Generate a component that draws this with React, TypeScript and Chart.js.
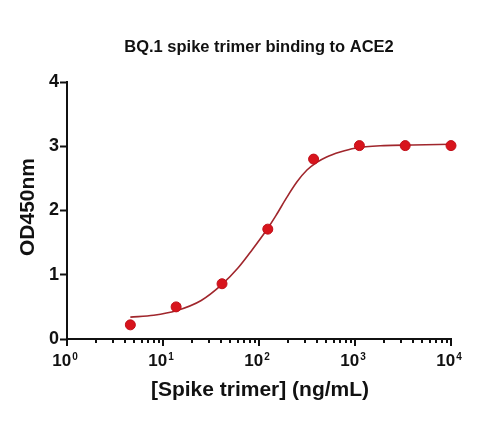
import React, { useEffect, useRef } from "react";
import { Chart, registerables } from "chart.js";

Chart.register(...registerables);

const chartTitle = "BQ.1 spike trimer binding to ACE2";
const xAxisTitle = "[Spike trimer] (ng/mL)";
const yAxisTitle = "OD450nm";

// measured points (ng/mL, OD450)
const concentrations = [4.57, 13.7, 41.2, 123.5, 370.4, 1111, 3333, 10000];
const odValues = [0.22, 0.5, 0.86, 1.71, 2.8, 3.01, 3.01, 3.01];

// fitted curve
const curveX = [4.57, 8, 13.7, 25, 41.2, 60, 85, 123, 150, 194, 250, 316, 400, 500, 700, 1000, 2000, 4000, 10000];
const curveY = [0.34, 0.37, 0.44, 0.6, 0.85, 1.1, 1.39, 1.72, 1.92, 2.2, 2.45, 2.63, 2.75, 2.83, 2.91, 2.97, 3.01, 3.02, 3.03];

// x tick labels 10^n
const xTickValues = [1, 10, 100, 1000, 10000];
const xTickBase = "10";
const xTickExps = ["0", "1", "2", "3", "4"];
const yTickValues = [0, 1, 2, 3, 4];

const FONT = '"Liberation Sans", Arial, sans-serif';

const decorPlugin = {
  id: "decor",
  afterDraw(chart: any) {
    const { ctx, chartArea, scales } = chart;
    const xs = scales.x;
    ctx.save();
    ctx.fillStyle = "#111";
    ctx.strokeStyle = "#111";
    // x ticks (major + minor)
    ctx.lineWidth = 2;
    for (let d = 0; d < 4; d++) {
      for (let k = 1; k <= 9; k++) {
        const v = k * Math.pow(10, d);
        const px = Math.round(xs.getPixelForValue(v));
        const len = k === 1 ? 7 : 4;
        ctx.beginPath();
        ctx.moveTo(px, chartArea.bottom);
        ctx.lineTo(px, chartArea.bottom + len);
        ctx.stroke();
      }
    }
    {
      const px = Math.round(xs.getPixelForValue(10000));
      ctx.beginPath();
      ctx.moveTo(px, chartArea.bottom);
      ctx.lineTo(px, chartArea.bottom + 7);
      ctx.stroke();
    }
    // x tick labels
    xTickValues.forEach((v, i) => {
      const px = xs.getPixelForValue(v) - 2;
      ctx.font = `bold 17px ${FONT}`;
      const wb = ctx.measureText(xTickBase).width;
      ctx.font = `bold 10px ${FONT}`;
      const we = ctx.measureText(xTickExps[i]).width + 1;
      const left = px - (wb + we) / 2;
      ctx.textAlign = "left";
      ctx.textBaseline = "alphabetic";
      ctx.font = `bold 17px ${FONT}`;
      ctx.fillText(xTickBase, left, 366);
      ctx.font = `bold 10px ${FONT}`;
      ctx.fillText(xTickExps[i], left + wb + 1, 359.5);
    });
    // titles
    const cx = (chartArea.left + chartArea.right) / 2;
    ctx.textAlign = "center";
    ctx.textBaseline = "middle";
    ctx.font = `bold 16.5px ${FONT}`;
    ctx.fillText(chartTitle, cx, 47);
    ctx.font = `bold 21px ${FONT}`;
    ctx.fillText(xAxisTitle, cx + 1, 390);
    ctx.save();
    ctx.translate(28, 207);
    ctx.rotate(-Math.PI / 2);
    ctx.fillText(yAxisTitle, 0, 0);
    ctx.restore();
    ctx.restore();
  },
};

export default function App() {
  const ref = useRef<HTMLCanvasElement>(null);
  useEffect(() => {
    if (!ref.current) return;
    const chart = new Chart(ref.current, {
      type: "scatter",
      data: {
        datasets: [
          {
            label: "points",
            data: concentrations.map((x, i) => ({ x, y: odValues[i] })),
            pointRadius: 5,
            pointBackgroundColor: "#d8141c",
            pointBorderColor: "#c0101a",
            pointBorderWidth: 1,
            showLine: false,
            clip: false as any,
            order: 0,
          },
          {
            label: "fit",
            data: curveX.map((x, i) => ({ x, y: curveY[i] })),
            showLine: true,
            pointRadius: 0,
            borderColor: "#a0262c",
            borderWidth: 1.6,
            cubicInterpolationMode: "monotone",
            fill: false,
            order: 1,
          } as any,
        ],
      },
      options: {
        responsive: false,
        animation: false,
        layout: { padding: { top: 82, right: 45, left: 0, bottom: 0 } },
        plugins: {
          legend: { display: false },
          tooltip: { enabled: false },
          title: { display: false },
        },
        scales: {
          x: {
            type: "logarithmic",
            min: 1,
            max: 10000,
            grid: { display: false, drawTicks: false },
            border: { display: true, color: "#111", width: 2 },
            ticks: { display: false },
            afterFit: (s: any) => {
              s.height = 86;
            },
          },
          y: {
            min: 0,
            max: 4,
            afterBuildTicks: (s: any) => {
              s.ticks = yTickValues.map((v) => ({ value: v }));
            },
            ticks: {
              stepSize: 1,
              color: "#111",
              padding: 1,
              font: { family: FONT, size: 18, weight: "bold" },
            },
            grid: {
              drawOnChartArea: false,
              drawTicks: true,
              tickLength: 7,
              tickColor: "#111",
              tickWidth: 2,
              color: "#111",
            },
            border: { display: true, color: "#111", width: 2 },
            afterFit: (s: any) => {
              s.width = 67;
            },
          },
        },
      } as any,
      plugins: [decorPlugin],
    });
    return () => chart.destroy();
  }, []);
  return (
    <div style={{ position: "fixed", left: 0, top: 0, width: 496, height: 425, background: "#fff" }}>
      <canvas ref={ref} width={496} height={425} />
    </div>
  );
}
